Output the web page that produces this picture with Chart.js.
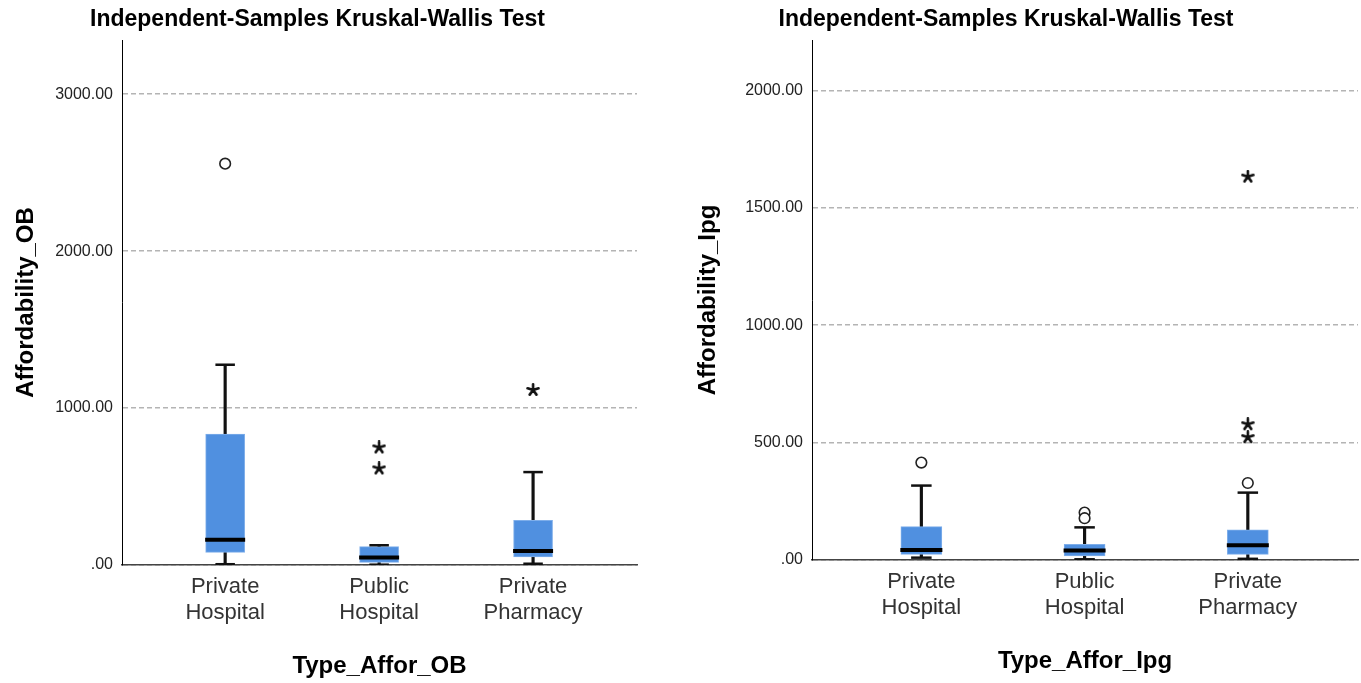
<!DOCTYPE html>
<html>
<head>
<meta charset="utf-8">
<script src="https://cdn.jsdelivr.net/npm/chart.js@4/dist/chart.umd.min.js"></script>
<style>
  html, body { margin: 0; padding: 0; background: #fff; }
  #wrap { position: relative; width: 1361px; height: 683px; overflow: hidden; }
  canvas { position: absolute; top: 0; }
  #obChart { left: 0; }
  #ipgChart { left: 651px; }
</style>
</head>
<body>
<div id="wrap">
  <canvas id="obChart" width="640" height="683"></canvas>
  <canvas id="ipgChart" width="710" height="683"></canvas>
</div>
<script>
// Groups shown on both x axes
const categories = [['Private', 'Hospital'], ['Public', 'Hospital'], ['Private', 'Pharmacy']];

// Affordability_OB: box-plot summary per group
const obLowerWhisker = [5, 2, 8];
const obQ1 = [80, 17, 51];
const obMedian = [161, 47, 89];
const obQ3 = [834, 117, 285];
const obUpperWhisker = [1276, 126, 592];
const obOutliers = [[2557], [], []];          // circles
const obExtremes = [[], [749, 615], [1115]];  // stars
const obTicks = [0, 1000, 2000, 3000];

// Affordability_Ipg: box-plot summary per group
const ipgLowerWhisker = [10, 3, 5];
const ipgQ1 = [24, 17, 24];
const ipgMedian = [43, 40, 63];
const ipgQ3 = [142, 67, 128];
const ipgUpperWhisker = [317, 139, 287];
const ipgOutliers = [[415], [202, 178], [328]];
const ipgExtremes = [[], [], [1633, 578, 523]];
const ipgTicks = [0, 500, 1000, 1500, 2000];

const FONT = "'Liberation Sans', Arial, Helvetica, sans-serif";

// SPSS-style five-armed asterisk used for extreme values
function makeStar(size, lw) {
  const c = document.createElement('canvas');
  c.width = size; c.height = size;
  const g = c.getContext('2d');
  const r = size / 2 - lw / 2;
  g.strokeStyle = '#111';
  g.lineWidth = lw;
  g.lineCap = 'round';
  g.beginPath();
  for (let k = 0; k < 5; k++) {
    const a = -Math.PI / 2 + k * 2 * Math.PI / 5;
    g.moveTo(size / 2, size / 2);
    g.lineTo(size / 2 + r * Math.cos(a), size / 2 + r * Math.sin(a));
  }
  g.stroke();
  return c;
}
const starStyle = makeStar(14, 2.6);

function pointsOf(groups) {
  const out = [];
  groups.forEach((vals, i) => vals.forEach(v => out.push({ x: i, y: v })));
  return out;
}

// Moves the title block's left edge so the heading sits over the whole panel
const titleShift = {
  id: 'titleShift',
  afterLayout(chart, args, opts) {
    if (chart.titleBlock && opts.left) {
      chart.titleBlock.left += opts.left;
    }
  }
};

function buildBoxChart(canvasId, cfg) {
  const idx = categories.map((_, i) => i);
  return new Chart(document.getElementById(canvasId), {
    type: 'bar',
    plugins: [titleShift],
    data: {
      datasets: [
        {
          // whisker stems
          type: 'bar',
          data: idx.map(i => ({ x: i, y: [cfg.lw[i], cfg.uw[i]] })),
          backgroundColor: '#111',
          borderWidth: 0,
          barThickness: 2.5,
          grouped: false,
          order: 5
        },
        {
          // interquartile boxes
          type: 'bar',
          data: idx.map(i => ({ x: i, y: [cfg.q1[i], cfg.q3[i]] })),
          backgroundColor: '#5090e0',
          borderColor: '#7eaeea',
          borderWidth: 1,
          borderSkipped: false,
          barThickness: cfg.boxWidth,
          grouped: false,
          order: 4
        },
        {
          // whisker caps
          type: 'scatter',
          data: idx.map(i => ({ x: i, y: cfg.lw[i] })).concat(idx.map(i => ({ x: i, y: cfg.uw[i] }))),
          pointStyle: 'line',
          pointRadius: cfg.boxWidth / 4,
          borderColor: '#111',
          borderWidth: 2.5,
          order: 3
        },
        {
          // medians
          type: 'scatter',
          data: idx.map(i => ({ x: i, y: cfg.med[i] })),
          pointStyle: 'line',
          pointRadius: cfg.boxWidth / 2 + 0.5,
          borderColor: '#000',
          borderWidth: 4,
          order: 2
        },
        {
          // outliers
          type: 'scatter',
          data: pointsOf(cfg.outliers),
          pointStyle: 'circle',
          pointRadius: 5.3,
          borderColor: '#222',
          borderWidth: 1.6,
          backgroundColor: '#fff',
          order: 1
        },
        {
          // extreme values
          type: 'scatter',
          data: pointsOf(cfg.extremes),
          pointStyle: starStyle,
          order: 0
        }
      ]
    },
    options: {
      responsive: false,
      animation: false,
      events: [],
      layout: { autoPadding: false, padding: { left: cfg.padLeft, right: 3, top: 0, bottom: 0 } },
      plugins: {
        legend: { display: false },
        tooltip: { enabled: false },
        titleShift: { left: cfg.titleLeftShift },
        title: {
          display: true,
          text: 'Independent-Samples Kruskal-Wallis Test',
          color: '#000',
          font: { family: FONT, size: 23, weight: 'bold' },
          padding: { top: 6, bottom: 6.4 }
        }
      },
      scales: {
        x: {
          type: 'linear',
          offset: false,
          min: -0.67,
          max: 2.675,
          afterBuildTicks: s => { s.ticks = categories.map((_, i) => ({ value: i })); },
          afterFit: s => { s.height = cfg.xHeight; s.paddingLeft = 0; s.paddingRight = 0; },
          ticks: {
            callback: v => categories[v],
            color: '#333',
            padding: 9,
            maxRotation: 0,
            autoSkip: false,
            font: { family: FONT, size: 22, lineHeight: 1.18 }
          },
          grid: { display: false, offset: false, drawTicks: false },
          border: { display: true, color: '#444', width: 1.5 },
          title: {
            display: true,
            text: cfg.xTitle,
            color: '#000',
            font: { family: FONT, size: 24, weight: 'bold' },
            padding: { top: 0, bottom: cfg.xTitlePad }
          }
        },
        y: {
          type: 'linear',
          min: 0,
          max: cfg.yMax,
          afterBuildTicks: s => { s.ticks = cfg.ticks.map(v => ({ value: v })); },
          afterFit: s => { s.width = cfg.yWidth; },
          ticks: {
            callback: v => (v === 0 ? '.00' : v.toFixed(2)),
            color: '#222',
            padding: 9,
            font: { family: FONT, size: 16 }
          },
          grid: { color: '#b4b4b4', lineWidth: 1.5, drawTicks: false },
          border: { display: true, color: '#000', width: 1, dash: [5, 3] },
          title: {
            display: true,
            text: cfg.yTitle,
            color: '#000',
            font: { family: FONT, size: 24, weight: 'bold' },
            padding: { top: 0, bottom: 0 }
          }
        }
      }
    }
  });
}

buildBoxChart('obChart', {
  lw: obLowerWhisker, q1: obQ1, med: obMedian, q3: obQ3, uw: obUpperWhisker,
  outliers: obOutliers, extremes: obExtremes, ticks: obTicks,
  yMax: 3345, boxWidth: 39, padLeft: 12, yWidth: 110, xHeight: 118, xTitlePad: 2,
  titleLeftShift: -14,
  xTitle: 'Type_Affor_OB', yTitle: 'Affordability_OB'
});

buildBoxChart('ipgChart', {
  lw: ipgLowerWhisker, q1: ipgQ1, med: ipgMedian, q3: ipgQ3, uw: ipgUpperWhisker,
  outliers: ipgOutliers, extremes: ipgExtremes, ticks: ipgTicks,
  yMax: 2215, boxWidth: 41, padLeft: 43, yWidth: 118, xHeight: 123, xTitlePad: 7,
  titleLeftShift: -40,
  xTitle: 'Type_Affor_Ipg', yTitle: 'Affordability_Ipg'
});
</script>
</body>
</html>
